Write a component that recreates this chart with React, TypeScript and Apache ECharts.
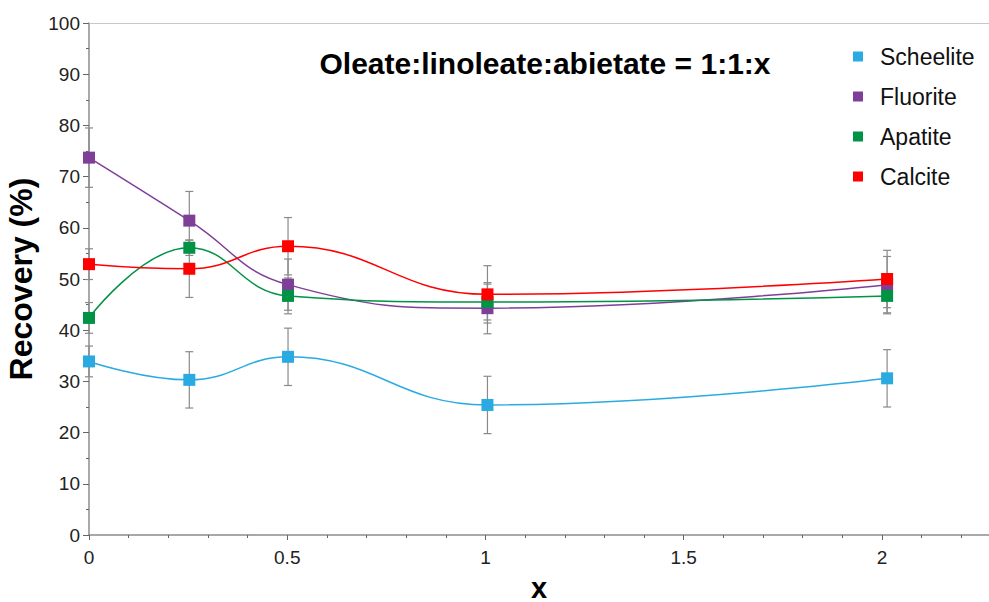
import React, { useEffect, useRef } from "react";
import * as echarts from "echarts";

const xValues = [0, 0.253, 0.502, 1.005, 2.013];
const seriesNames = ["Scheelite", "Fluorite", "Apatite", "Calcite"];
const seriesColors = ["#29abe2", "#7f3f98", "#009245", "#ff0000"];
const scheelite = [33.9, 30.3, 34.8, 25.4, 30.6];
const fluorite = [73.7, 61.4, 48.9, 44.3, 48.9];
const apatite = [42.4, 56.1, 46.7, 45.5, 46.7];
const calcite = [52.9, 52.0, 56.4, 47.0, 50.0];
const scheeliteErr = [3.0, 5.5, 5.6, 5.6, 5.6];
const fluoriteErr = [5.8, 5.7, 5.0, 5.0, 5.5];
const apatiteErr = [3.0, 1.5, 3.5, 3.5, 3.5];
const calciteErr = [3.0, 5.6, 5.6, 5.6, 5.6];
const titleText = "Oleate:linoleate:abietate = 1:1:x";

const FONT = "Liberation Sans, Arial, Helvetica, sans-serif";

export default function App() {
  const ref = useRef<HTMLDivElement>(null);
  useEffect(() => {
    if (!ref.current) return;
    const chart = echarts.init(ref.current, null, { renderer: "svg" });
    const values = [scheelite, fluorite, apatite, calcite];
    const errs = [scheeliteErr, fluoriteErr, apatiteErr, calciteErr];

    const lineSeries: any[] = seriesNames.map((name, i) => ({
      name,
      type: "line",
      smooth: 0.45,
      symbol: "rect",
      symbolSize: 12,
      z: 3,
      itemStyle: { color: seriesColors[i] },
      lineStyle: { color: seriesColors[i], width: 1.5 },
      data: xValues.map((x, j) => [x, values[i][j]]),
    }));

    const errSeries: any[] = seriesNames.map((name, i) => ({
      name: name + " err",
      type: "custom",
      z: 2,
      silent: true,
      data: xValues.map((x, j) => [x, values[i][j] - errs[i][j], values[i][j] + errs[i][j]]),
      renderItem: (params: any, api: any) => {
        const x = api.value(0);
        const lo = api.coord([x, api.value(1)]);
        const hi = api.coord([x, api.value(2)]);
        const w = 4;
        const style = { stroke: "#8a8a8a", lineWidth: 1.2 };
        return {
          type: "group",
          children: [
            { type: "line", shape: { x1: lo[0], y1: lo[1], x2: hi[0], y2: hi[1] }, style },
            { type: "line", shape: { x1: lo[0] - w, y1: lo[1], x2: lo[0] + w, y2: lo[1] }, style },
            { type: "line", shape: { x1: hi[0] - w, y1: hi[1], x2: hi[0] + w, y2: hi[1] }, style },
          ],
        };
      },
    }));

    chart.setOption({
      animation: false,
      backgroundColor: "#ffffff",
      textStyle: { fontFamily: FONT },
      title: {
        text: titleText,
        left: 545,
        top: 48,
        textAlign: "center",
        padding: 0,
        textStyle: { fontFamily: FONT, fontSize: 30, fontWeight: "bold", color: "#000" },
      },
      legend: {
        data: seriesNames,
        orient: "vertical",
        left: 853,
        top: 45,
        padding: 0,
        itemGap: 17,
        itemWidth: 10,
        itemHeight: 10,
        icon: "rect",
        textStyle: { fontFamily: FONT, fontSize: 23, color: "#111", padding: [0, 0, 0, 12] },
      },
      grid: { left: 89, right: 0, top: 23, bottom: 67, containLabel: false, outerBoundsMode: "none" },
      xAxis: [
        {
          type: "value",
          min: 0,
          max: 2.27,
          interval: 0.5,
          name: "x",
          nameLocation: "middle",
          nameGap: 38,
          nameTextStyle: { fontFamily: FONT, fontSize: 29, fontWeight: "bold", color: "#000" },
          axisLine: { show: true, onZero: false, lineStyle: { color: "#8c8c8c", width: 1.5 } },
          axisTick: { show: true, inside: false, length: 5, lineStyle: { color: "#666" } },
          minorTick: { show: true, splitNumber: 5, length: 3, lineStyle: { color: "#666" } },
          axisLabel: {
            fontFamily: FONT,
            fontSize: 19,
            color: "#222",
            margin: 13,
            formatter: (v: number) => {
              const r = Math.round(v * 2) / 2;
              return Math.abs(r - v) < 1e-6 ? String(r) : "";
            },
          },
          splitLine: { show: false },
        },
        {
          type: "value",
          position: "top",
          min: 0,
          max: 2.27,
          interval: 0.5,
          axisLine: { show: true, onZero: false, lineStyle: { color: "#c8c8c8", width: 1 } },
          axisTick: { show: false },
          axisLabel: { show: false },
          splitLine: { show: false },
        },
      ],
      yAxis: {
        type: "value",
        min: 0,
        max: 100,
        interval: 10,
        name: "Recovery (%)",
        nameLocation: "middle",
        nameGap: 46,
        nameTextStyle: { fontFamily: FONT, fontSize: 32, fontWeight: "bold", color: "#000" },
        axisLine: { show: true, lineStyle: { color: "#8c8c8c", width: 1.5 } },
        axisTick: { show: true, inside: false, length: 6, lineStyle: { color: "#666" } },
        minorTick: { show: true, splitNumber: 2, length: 3, lineStyle: { color: "#666" } },
        axisLabel: { fontFamily: FONT, fontSize: 19, color: "#222", margin: 9 },
        splitLine: { show: false },
      },
      series: [...errSeries, ...lineSeries],
    });
    return () => chart.dispose();
  }, []);
  return (
    <div
      ref={ref}
      style={{ position: "fixed", left: 0, top: 0, width: 989, height: 602, background: "#fff" }}
    />
  );
}
